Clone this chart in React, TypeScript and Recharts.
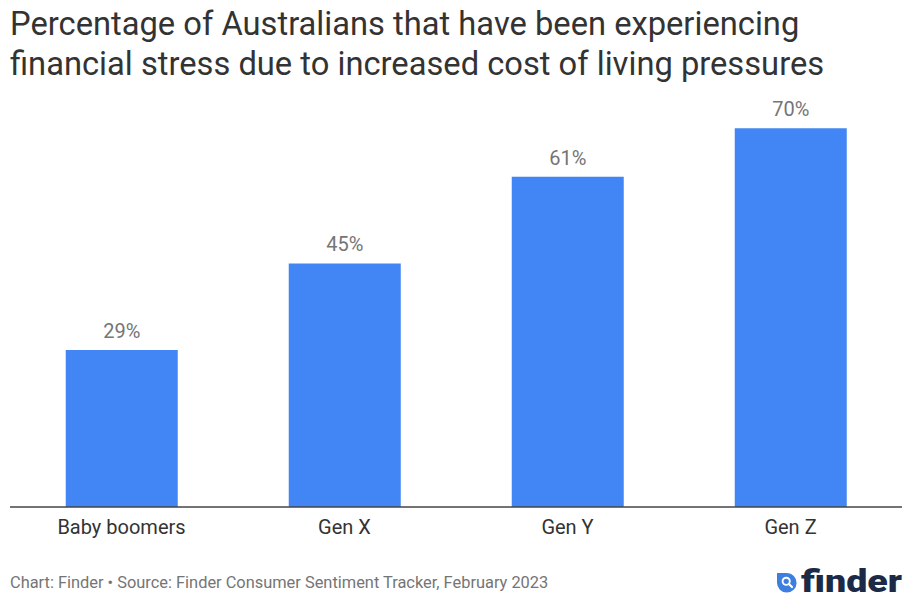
import React from "react";
import { BarChart, Bar, XAxis, YAxis, LabelList } from "recharts";

const categories = ["Baby boomers", "Gen X", "Gen Y", "Gen Z"];
const percentages = [29, 45, 61, 70];
const titleLines = [
  "Percentage of Australians that have been experiencing",
  "financial stress due to increased cost of living pressures",
];
const footerText = "Chart: Finder \u2022 Source: Finder Consumer Sentiment Tracker, February 2023";

const data = categories.map((c, i) => ({ name: c, value: percentages[i] }));

const FONT = "Roboto, 'Noto Sans', Arial, sans-serif";

export default function App() {
  return (
    <div style={{ position: "absolute", left: 0, top: 0, width: 916, height: 616, background: "#fff", fontFamily: FONT }}>
      <div style={{ position: "absolute", left: 10, top: 4, fontSize: 32.7, lineHeight: "40px", color: "#333333", whiteSpace: "nowrap" }}>
        {titleLines.map((l) => (
          <div key={l}>{l}</div>
        ))}
      </div>
      <BarChart
        width={916}
        height={616}
        data={data}
        margin={{ top: 74, right: 14, left: 10, bottom: 79 }}
        barCategoryGap="25%"
      >
        <XAxis
          dataKey="name"
          height={30}
          tickLine={false}
          tickSize={0}
          tickMargin={13}
          axisLine={{ stroke: "#444444", strokeWidth: 1.5 }}
          tick={{ fill: "#333333", fontSize: 20, fontFamily: FONT }}
        />
        <YAxis hide domain={[0, 80]} />
        <Bar dataKey="value" fill="#4285f4" isAnimationActive={false}>
          <LabelList
            dataKey="value"
            position="top"
            offset={12}
            formatter={(v: any) => `${v}%`}
            style={{ fill: "#757575", fontSize: 20, fontFamily: FONT }}
          />
        </Bar>
      </BarChart>
      <div style={{ position: "absolute", left: 10, top: 573, fontSize: 16.4, color: "#757575", whiteSpace: "nowrap" }}>
        {footerText}
      </div>
      <svg style={{ position: "absolute", left: 770, top: 560 }} width={140} height={45}>
        <path d="M7 12 L17 12 A9.8 9.8 0 1 1 7 21.8 Z" fill="#3d7fe0" transform="translate(0,1)" />
        <circle cx={16.2} cy={21.3} r={3.6} fill="none" stroke="#fff" strokeWidth={1.9} />
        <line x1={18.9} y1={24} x2={22} y2={27.1} stroke="#fff" strokeWidth={2.1} strokeLinecap="round" />
        <text x={31} y={32} fontSize={32} fontWeight={900} fill="#1b2a47" fontFamily={FONT} textLength={101} lengthAdjust="spacingAndGlyphs">
          finder
        </text>
      </svg>
    </div>
  );
}
